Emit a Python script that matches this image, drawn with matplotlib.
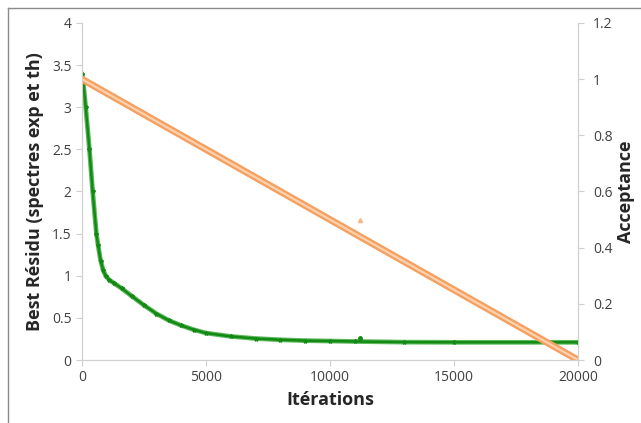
import matplotlib.pyplot as plt
from matplotlib.lines import Line2D
from matplotlib.ticker import FuncFormatter

# best residual vs iterations
iters = [0, 50, 150, 300, 430, 580, 650, 750, 850, 950, 1100, 1300, 1600,
         2000, 2500, 3000, 3500, 4000, 4500, 5000, 6000, 7000, 8000, 9000,
         10000, 11000, 13000, 15000, 20000]
residu = [3.40, 3.30, 3.00, 2.50, 2.00, 1.50, 1.36, 1.18, 1.07, 1.00, 0.95,
          0.91, 0.85, 0.76, 0.65, 0.55, 0.47, 0.41, 0.36, 0.32, 0.28, 0.255,
          0.24, 0.23, 0.225, 0.22, 0.212, 0.21, 0.21]
spike_iter = [11200]
spike_res = [0.26]

# acceptance vs iterations
acc_iter = [0, 5000, 10000, 15000, 20000]
acceptance = [1.0, 0.75, 0.5, 0.25, 0.0]
acc_out_iter = [11200]
acc_out = [0.50]

plt.rcParams['font.family'] = ['Open Sans', 'DejaVu Sans']

fig = plt.figure(figsize=(6.41, 4.23), dpi=100)
ax = fig.add_axes([82/641, 1-360/423, (578-82)/641, (360-23)/423])
ax2 = ax.twinx()

#chart frame like excel (top and left only visible)
fig.add_artist(Line2D([8/641, 1], [1-8/423, 1-8/423], color='#8c8c8c', lw=1))
fig.add_artist(Line2D([8/641, 8/641], [0, 1-8/423], color='#8c8c8c', lw=1))

ax.plot(iters, residu, color='#5cb85c', lw=3.4, solid_capstyle='round', zorder=2)
ax.plot(iters, residu, color='#138a13', lw=1.8, marker='*', ms=3, zorder=3)
ax.plot(spike_iter, spike_res, color='#138a13', marker='o', ms=2.5, ls='none')

ax2.plot(acc_iter, acceptance, color='#f5a060', lw=5, solid_capstyle='round')
ax2.plot(acc_iter, acceptance, color='#fbd2b0', lw=1.6)
ax2.plot(acc_out_iter, acc_out, color='#f7b88a', marker='^', ms=3, ls='none')

ax.set_xlim(0, 20000)
ax.set_ylim(0, 4)
ax2.set_ylim(0, 1.2)
ax.set_xticks([0, 5000, 10000, 15000, 20000])
ax.set_yticks([0, 0.5, 1, 1.5, 2, 2.5, 3, 3.5, 4])
ax2.set_yticks([0, 0.2, 0.4, 0.6, 0.8, 1.0, 1.2])
fmt = FuncFormatter(lambda v, p: '%g' % round(v, 2))
ax.yaxis.set_major_formatter(fmt)
ax2.yaxis.set_major_formatter(fmt)

for a in (ax, ax2):
    for s in a.spines.values():
        s.set_color('#d0d0d0')
    a.spines['top'].set_visible(False)
    a.tick_params(colors='#d0d0d0', labelcolor='#404040', labelsize=10, length=4)
ax2.tick_params(axis='y', pad=7)

ax.set_xlabel('Itérations', fontsize=13, fontweight='bold', color='#262626', labelpad=4)
ax.set_ylabel('Best Résidu (spectres exp et th)', fontsize=13, fontweight='bold',
              color='#262626', labelpad=6)
ax2.set_ylabel('Acceptance', fontsize=13, fontweight='bold', color='#262626', labelpad=3)

fig.savefig('out.png', dpi=100)
